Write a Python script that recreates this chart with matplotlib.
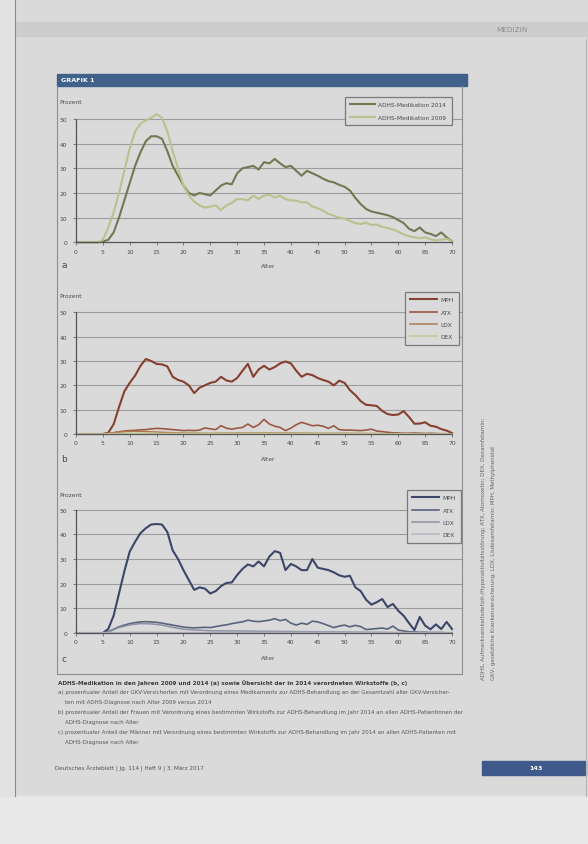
import matplotlib
matplotlib.use("Agg")
from matplotlib import pyplot as plt
from matplotlib.patches import Rectangle
from matplotlib.lines import Line2D

# ---- data (x = Alter, y = Prozent) ----
ages = list(range(71))

med_2014 = [
    0, 0, 0, 0, 0, 0.3, 1, 4, 10, 17,
    24, 31, 36.5, 41, 43, 43, 42, 37, 31, 27,
    23, 20, 19, 20, 19.5, 19, 21, 23, 24, 23.5,
    28, 30, 30.5, 31, 29.5, 32.5, 32, 33.8, 32, 30.5,
    31, 29, 27, 29, 28, 27, 25.8, 24.8, 24.3, 23.3,
    22.5, 21, 18, 15.5, 13.5, 12.5, 12, 11.5, 11, 10.2,
    9, 7.8, 5.5, 4.5, 6, 4, 3.4, 2.5, 4, 2,
    0.3]
med_2009 = [
    0, 0, 0, 0, 0, 1, 6, 12, 20, 29,
    38, 45, 48, 49.5, 50.5, 52, 50.5, 45, 37, 30,
    23, 19, 16.5, 15, 14, 14.5, 15, 13, 15, 16,
    17.5, 17.5, 17, 18.9, 17.6, 19, 19.2, 18.2, 18.9, 17.5,
    17, 16.9, 16.2, 16.2, 14.5, 13.8, 12.8, 11.5, 10.8, 10,
    9.6, 8.6, 7.8, 7.4, 8, 7, 7.2, 6.3, 5.8, 5.2,
    4.3, 3.2, 2.5, 2, 1.6, 2, 1.2, 0.8, 1, 1.4,
    0.3]

b_mph = [
    0, 0, 0, 0, 0, 0, 0.5, 4, 11, 17.5,
    21, 24, 28, 30.8, 30, 28.8, 28.6, 27.8, 23.5, 22.2,
    21.5, 20, 16.8, 19, 20, 21, 21.5, 23.5, 22, 21.5,
    23, 26, 28.8, 23.5, 26.5, 28, 26.5, 27.5, 29, 29.8,
    29, 26, 23.5, 24.7, 24.2, 23, 22.2, 21.5, 20, 21.9,
    21, 18, 16, 13.5, 12, 11.8, 11.5, 9.5, 8.2, 7.8,
    8, 9.4, 7, 4.2, 4.3, 4.8, 3.4, 3, 2, 1.4,
    0.4]
b_atx = [
    0, 0, 0, 0, 0, 0, 0.2, 0.5, 0.9, 1.2,
    1.4, 1.5, 1.7, 1.8, 2.1, 2.3, 2.2, 2, 1.8, 1.6,
    1.4, 1.5, 1.4, 1.6, 2.5, 2.1, 1.8, 3.4, 2.4, 2,
    2.4, 2.7, 4.1, 2.7, 3.8, 6, 4.1, 3.2, 2.7, 1.4,
    2.4, 3.8, 4.8, 4.1, 3.4, 3.6, 3.2, 2.3, 3.4, 1.8,
    1.6, 1.6, 1.5, 1.4, 1.6, 2, 1.2, 1, 0.7, 0.5,
    0.4, 0.3, 0.3, 0.4, 0.3, 0.2, 0.3, 0.2, 0.1, 0.1,
    0]

c_mph = [
    0, 0, 0, 0, 0, 0, 1.6, 7, 16, 25,
    33, 37, 40.5, 42.5, 44, 44.2, 44, 41, 33.5, 30,
    25.5, 21.5, 17.5, 18.5, 18, 16, 17, 19, 20.3, 20.5,
    23.5, 26, 27.8, 27, 29, 27, 31, 33.2, 32.5, 25.5,
    28, 27, 25.5, 25.5, 30, 26.5, 26, 25.5, 24.6, 23.4,
    22.8, 23.2, 18.5, 17, 13.5, 11.5, 12.5, 13.8, 10.5, 11.8,
    9, 7, 4, 1.2, 6.5, 3, 1.5, 3.5, 1.6, 4.5,
    1.6]
c_atx = [
    0, 0, 0, 0, 0, 0, 0.5, 1.5, 2.5, 3.2,
    3.8, 4.2, 4.5, 4.6, 4.5, 4.3, 4, 3.6, 3.2, 2.8,
    2.4, 2.2, 2.1, 2.2, 2.3, 2.2, 2.6, 3, 3.3, 3.8,
    4.2, 4.5, 5.2, 4.8, 4.6, 4.9, 5.2, 5.8, 5, 5.5,
    4, 3.2, 4, 3.5, 4.8, 4.5, 3.8, 3, 2.2, 2.8,
    3.2, 2.5, 3.1, 2.6, 1.4, 1.6, 1.8, 2, 1.6, 2.8,
    1.2, 0.8, 0.5, 0.4, 0.3, 0.3, 0.2, 0.2, 0.2, 0.1,
    0.1]

# the two small series were only readable at a coarser age grid
small_ages = [0, 5, 6, 8, 10, 12, 14, 16, 18, 20, 25, 30, 35, 40, 45, 50, 55, 60, 65, 70]
b_ldx = [0, 0, 0.3, 0.8, 1.1, 1.1, 0.9, 0.7, 0.5, 0.4, 0.3, 0.4, 0.5, 0.4, 0.3, 0.3, 0.2, 0.1, 0.1, 0]
b_dex = [0, 0, 0.1, 0.2, 0.3, 0.3, 0.3, 0.2, 0.2, 0.2, 0.2, 0.2, 0.3, 0.2, 0.2, 0.1, 0.1, 0.1, 0, 0]
c_ldx = [0, 0, 0.4, 2.2, 3.3, 3.8, 3.7, 3.2, 2.3, 1.5, 0.9, 0.8, 0.7, 0.6, 0.5, 0.4, 0.3, 0.2, 0.1, 0]
c_dex = [0, 0, 0.1, 0.2, 0.3, 0.3, 0.3, 0.3, 0.2, 0.2, 0.2, 0.2, 0.2, 0.2, 0.2, 0.1, 0.1, 0.1, 0, 0]

x_ticks = list(range(0, 71, 5))
y_ticks = [0, 10, 20, 30, 40, 50]
drugs = ["MPH", "ATX", "LDX", "DEX"]

caption_title = ("ADHS-Medikation in den Jahren 2009 und 2014 (a) sowie Übersicht der in 2014 "
                 "verordneten Wirkstoffe (b, c)")
caption_lines = [
    "a) prozentualer Anteil der GKV-Versicherten mit Verordnung eines Medikaments zur ADHS-Behandlung an der Gesamtzahl aller GKV-Versicher-",
    "    ten mit ADHS-Diagnose nach Alter 2009 versus 2014",
    "b) prozentualer Anteil der Frauen mit Verordnung eines bestimmten Wirkstoffs zur ADHS-Behandlung im Jahr 2014 an allen ADHS-Patientinnen der",
    "    ADHS-Diagnose nach Alter",
    "c) prozentualer Anteil der Männer mit Verordnung eines bestimmten Wirkstoffs zur ADHS-Behandlung im Jahr 2014 an allen ADHS-Patienten mit",
    "    ADHS-Diagnose nach Alter",
]
side_lines = [
    "ADHS, Aufmerksamkeitsdefizit-/Hyperaktivitätsstörung; ATX, Atomoxetin; DEX, Dexamfetamin;",
    "GKV, gesetzliche Krankenversicherung; LDX, Lisdexamfetamin; MPH, Methylphenidat",
]
footer = "Deutsches Ärzteblatt | Jg. 114 | Heft 9 | 3. März 2017"

# ---- page geometry in pixels ----
W, H = 588, 845
X0, X70 = 76, 452          # pixel x of age 0 and age 70
FRAME_L, FRAME_R = 57, 462
PAGE = "#dadada"
GRID = "#9c9c9c"
AXIS = "#555555"
TXT = "#4a4a4a"


def fx(px):
    return px / W


def fy(py):
    return 1 - py / H


def make_axes(fig, y_zero, y_fifty):
    unit = (y_zero - y_fifty) / 50
    top = y_zero - 55 * unit
    ax = fig.add_axes([fx(X0), fy(y_zero), (X70 - X0) / W, (y_zero - top) / H])
    ax.set_xlim(0, 70)
    ax.set_ylim(0, 55)
    ax.patch.set_alpha(0)
    for s in ("top", "right"):
        ax.spines[s].set_visible(False)
    ax.spines["left"].set_bounds(0, 50)
    for s in ("left", "bottom"):
        ax.spines[s].set_color(AXIS)
        ax.spines[s].set_linewidth(0.9)
    ax.set_xticks(x_ticks)
    ax.set_yticks(y_ticks)
    ax.tick_params(labelsize=4.3, length=2.5, width=0.5, colors=AXIS, labelcolor=TXT)
    ax.tick_params(axis="y", pad=4)
    ax.tick_params(axis="x", pad=2)
    xmax = (FRAME_R - X0) / (X70 - X0)
    for y in y_ticks[1:]:
        ax.axhline(y, 0, xmax, color=GRID, lw=0.8, zorder=0, clip_on=False)
    return ax


def panel_texts(fig, letter, y_prozent, y_bottom):
    fig.text(fx(59), fy(y_prozent), "Prozent", fontsize=4.3, color=TXT, va="center")
    fig.text(fx(61), fy(y_bottom), letter, fontsize=6.5, color=TXT, va="center")
    fig.text(fx(268), fy(y_bottom), "Alter", fontsize=4.3, color=TXT, va="center", ha="center")


def add_legend(ax, handles, labels, x, y, w_len, spacing):
    leg = ax.legend(handles, labels, loc="upper left", bbox_to_anchor=(fx(x), fy(y)),
                    bbox_transform=ax.figure.transFigure, fontsize=4.2, frameon=True,
                    fancybox=False, edgecolor="#7a7a7a", facecolor=PAGE, framealpha=1,
                    handlelength=w_len, labelspacing=spacing, borderpad=0.9,
                    handletextpad=0.6, borderaxespad=0)
    leg.get_frame().set_linewidth(0.9)
    for t in leg.get_texts():
        t.set_color(TXT)
    return leg


fig = plt.figure(figsize=(W / 100, H / 100), dpi=100)
fig.patch.set_facecolor(PAGE)

# page decoration: header band, edges, lower page
fig.patches.append(Rectangle((0, fy(37)), 1, fy(23) - fy(37), transform=fig.transFigure,
                             color="#cdcdcd", zorder=0))
fig.text(fx(512), fy(30), "MEDIZIN", fontsize=5.2, color="#8e8e8e", ha="center", va="center")
fig.patches.append(Rectangle((0, 0), 1, fy(797), transform=fig.transFigure,
                             color="#e8e8e8", zorder=0))
fig.patches.append(Rectangle((0, fy(797)), fx(14), 1 - fy(797), transform=fig.transFigure,
                             color="#e2e2e2", zorder=0))
fig.lines.append(Line2D([fx(15), fx(15)], [fy(0), fy(797)], transform=fig.transFigure,
                        color="#8a8a8a", lw=0.8))
fig.lines.append(Line2D([fx(586), fx(586)], [fy(40), fy(797)], transform=fig.transFigure,
                        color="#b5b5b5", lw=0.8))

# "GRAFIK 1" bar and frame
fig.patches.append(Rectangle((fx(FRAME_L), fy(87)), fx(467) - fx(FRAME_L), fy(75) - fy(87),
                             transform=fig.transFigure, color="#40618a", zorder=1))
fig.text(fx(61), fy(81), "GRAFIK 1", fontsize=4.6, color="white", weight="bold", va="center")
for xs, ys in [([FRAME_L, FRAME_L], [87, 675]), ([FRAME_R, FRAME_R], [87, 675]),
               ([FRAME_L, FRAME_R], [675, 675])]:
    fig.lines.append(Line2D([fx(v) for v in xs], [fy(v) for v in ys],
                            transform=fig.transFigure, color="#8c8c8c", lw=0.8))

# ---- panel a ----
ax_a = make_axes(fig, 243.3, 120.0)
l14, = ax_a.plot(ages, med_2014, color="#6f7a52", lw=1.5, clip_on=False)
l09, = ax_a.plot(ages, med_2009, color="#bcc08e", lw=1.5, clip_on=False)
add_legend(ax_a, [l14, l09], ["ADHS-Medikation 2014", "ADHS-Medikation 2009"],
           345, 98, 4.2, 1.3)
panel_texts(fig, "a", 103, 266)

# ---- panel b ----
ax_b = make_axes(fig, 435.0, 313.3)
hb = [ax_b.plot(ages, b_mph, color="#86402f", lw=1.5, clip_on=False)[0],
      ax_b.plot(ages, b_atx, color="#9a5845", lw=1.2, clip_on=False)[0],
      ax_b.plot(small_ages, b_ldx, color="#b07a4c", lw=1.1, clip_on=False)[0],
      ax_b.plot(small_ages, b_dex, color="#c4c995", lw=1.1, clip_on=False)[0]]
add_legend(ax_b, hb, drugs, 405, 293, 4.6, 1.25)
panel_texts(fig, "b", 297, 460)

# ---- panel c ----
ax_c = make_axes(fig, 634.0, 510.7)
hc = [ax_c.plot(ages, c_mph, color="#3b4668", lw=1.5, clip_on=False)[0],
      ax_c.plot(ages, c_atx, color="#58637c", lw=1.2, clip_on=False)[0],
      ax_c.plot(small_ages, c_ldx, color="#8c92a4", lw=1.1, clip_on=False)[0],
      ax_c.plot(small_ages, c_dex, color="#b3b7c4", lw=1.1, clip_on=False)[0]]
add_legend(ax_c, hc, drugs, 407, 491, 4.6, 1.25)
panel_texts(fig, "c", 496, 659)

# ---- caption, side note, footer ----
fig.text(fx(58), fy(683), caption_title, fontsize=4.1, color="#3a3a3a", weight="bold", va="center")
for i, line in enumerate(caption_lines):
    fig.text(fx(58), fy(693 + 10 * i), line, fontsize=3.95, color="#555555", va="center")
for i, line in enumerate(side_lines):
    fig.text(fx(484 + 9 * i), fy(680), line, fontsize=4.0, color="#666666",
             rotation=90, ha="center", va="bottom")
fig.text(fx(55), fy(769), footer, fontsize=4.1, color="#555555", va="center")
fig.patches.append(Rectangle((fx(482), fy(776)), fx(586) - fx(482), fy(762) - fy(776),
                             transform=fig.transFigure, color="#3f5a8a", zorder=1))
fig.text(fx(536), fy(769), "143", fontsize=4.6, color="white", weight="bold",
         ha="center", va="center")

fig.savefig("out.png", dpi=100, facecolor=fig.get_facecolor())
